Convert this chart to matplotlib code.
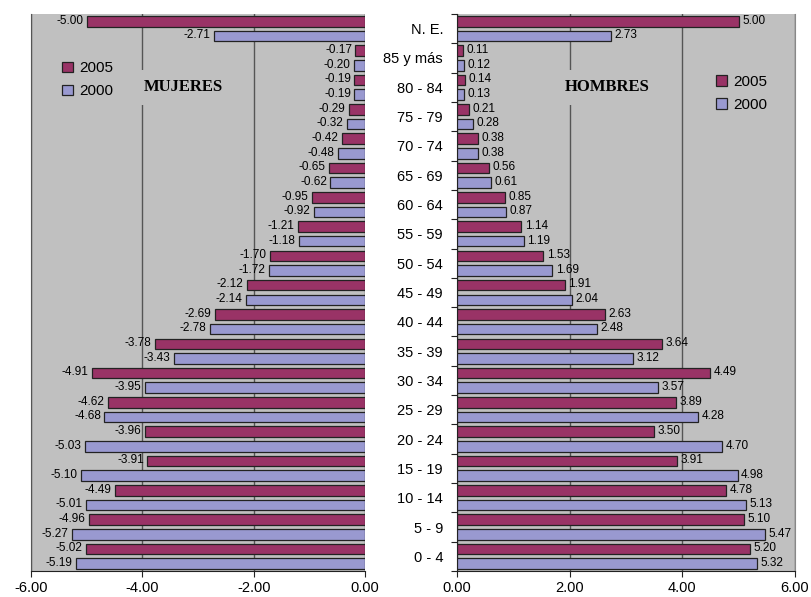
import matplotlib.pyplot as plt
import numpy as np

grupos = ['0 - 4', '5 - 9', '10 - 14', '15 - 19', '20 - 24', '25 - 29', '30 - 34',
          '35 - 39', '40 - 44', '45 - 49', '50 - 54', '55 - 59', '60 - 64',
          '65 - 69', '70 - 74', '75 - 79', '80 - 84', '85 y más', 'N. E.']

mujeres_2005 = [-5.02, -4.96, -4.49, -3.91, -3.96, -4.62, -4.91, -3.78, -2.69, -2.12,
                -1.70, -1.21, -0.95, -0.65, -0.42, -0.29, -0.19, -0.17, -5.00]
mujeres_2000 = [-5.19, -5.27, -5.01, -5.10, -5.03, -4.68, -3.95, -3.43, -2.78, -2.14,
                -1.72, -1.18, -0.92, -0.62, -0.48, -0.32, -0.19, -0.20, -2.71]
hombres_2005 = [5.20, 5.10, 4.78, 3.91, 3.50, 3.89, 4.49, 3.64, 2.63, 1.91,
                1.53, 1.14, 0.85, 0.56, 0.38, 0.21, 0.14, 0.11, 5.00]
hombres_2000 = [5.32, 5.47, 5.13, 4.98, 4.70, 4.28, 3.57, 3.12, 2.48, 2.04,
                1.69, 1.19, 0.87, 0.61, 0.38, 0.28, 0.13, 0.12, 2.73]

C05 = '#993366'
C00 = '#9999d0'
FONDO = '#c0c0c0'
SANS = ['Liberation Sans', 'DejaVu Sans']
h = 0.36
y = np.arange(len(grupos))

fig = plt.figure(figsize=(8.11, 5.97), dpi=100)
axm = fig.add_axes([0.0382, 0.0436, 0.4118, 0.9329])
axh = fig.add_axes([0.5635, 0.0436, 0.4168, 0.9329])

def etiquetas(ax, barras, valores, lado):
    # el texto va pegado a la punta de cada barra
    for b, v in zip(barras, valores):
        x = b.get_x() + b.get_width()
        ax.annotate(f'{v:.2f}', (x, b.get_y() + b.get_height() / 2),
                    xytext=(2.5 * lado, 0.5), textcoords='offset points',
                    ha='left' if lado > 0 else 'right', va='center',
                    fontsize=8.5, family=SANS)

for ax, d05, d00, lado in [(axm, mujeres_2005, mujeres_2000, -1),
                           (axh, hombres_2005, hombres_2000, 1)]:
    ax.set_facecolor(FONDO)
    b1 = ax.barh(y + 0.25, d05, height=h, color=C05, edgecolor='#222222', lw=0.9, label='2005', zorder=3)
    b2 = ax.barh(y - 0.25, d00, height=h, color=C00, edgecolor='#222222', lw=0.9, label='2000', zorder=3)
    etiquetas(ax, b1, d05, lado)
    etiquetas(ax, b2, d00, lado)
    ax.set_ylim(-0.5, len(grupos) - 0.5)
    ax.grid(axis='x', color='#555555', lw=1.0, zorder=1)
    ax.set_axisbelow(True)
    ax.spines['top'].set_visible(False)
    ax.spines['bottom'].set_color('#222222')
    ax.tick_params(axis='x', labelsize=10.5, length=4, direction='out', color='#222222')

axm.set_xlim(-6, 0)
axm.set_xticks([-6, -4, -2, 0])
axm.set_xticklabels(['-6.00', '-4.00', '-2.00', '0.00'], family=SANS)
axm.set_yticks([])
axm.spines['right'].set_visible(False)
axm.spines['left'].set_color('#555555')

axh.set_xlim(0, 6)
axh.set_xticks([0, 2, 4, 6])
axh.set_xticklabels(['0.00', '2.00', '4.00', '6.00'], family=SANS)
axh.set_yticks(np.arange(len(grupos) + 1) - 0.5)
axh.set_yticklabels([])
axh.set_yticks(y, minor=True)
axh.set_yticklabels(grupos, minor=True, fontsize=10.5, family=SANS)
axh.tick_params(axis='y', which='major', length=4, color='#222222')
axh.tick_params(axis='y', which='minor', length=0, pad=10)
axh.spines['left'].set_color('#222222')
axh.spines['right'].set_color('#888888')

caja = dict(facecolor=FONDO, edgecolor='none', pad=7)
axm.text(-3.27, 16.0, 'MUJERES', ha='center', va='center', fontsize=12, fontweight='bold',
         family=['Liberation Serif'], bbox=caja, zorder=2)
axh.text(2.66, 16.0, 'HOMBRES', ha='center', va='center', fontsize=12, fontweight='bold',
         family=['Liberation Serif'], bbox=caja, zorder=2)

ley = dict(frameon=False, handlelength=0.7, handleheight=0.7,
           handletextpad=0.4, labelspacing=0.6, prop={'family': 'Liberation Sans', 'size': 11})
axm.legend(loc='upper left', bbox_to_anchor=(0.052, 0.94), **ley)
axh.legend(loc='upper left', bbox_to_anchor=(0.727, 0.916), **ley)

fig.savefig('out.png', dpi=100)
